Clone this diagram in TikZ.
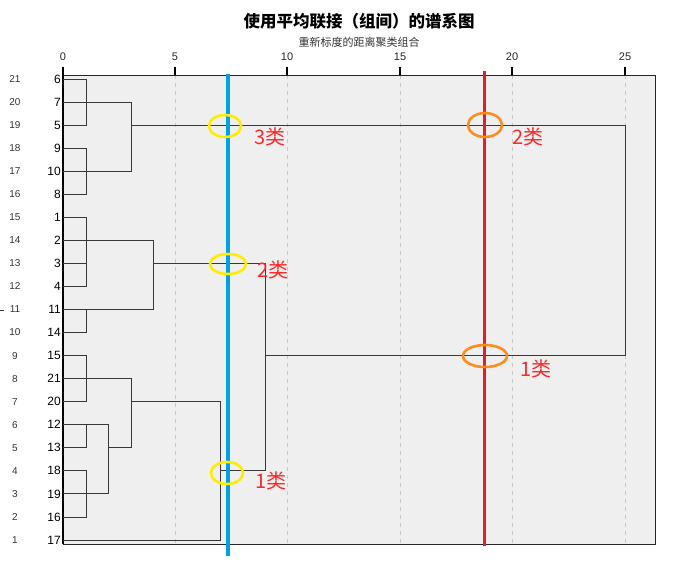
\documentclass[tikz,border=0pt]{standalone}
\usepackage{fontspec}
\setmainfont{Liberation Sans}
\newfontfamily\cjk{Noto Sans CJK SC}
\definecolor{boxfill}{RGB}{239,239,239}
\definecolor{cutblue}{RGB}{0,160,228}
\definecolor{cutred}{RGB}{226,30,38}
\definecolor{ringyellow}{RGB}{255,236,0}
\definecolor{ringorange}{RGB}{255,140,30}
\definecolor{labred}{RGB}{255,40,40}
\tikzset{
  tree/.style={draw=black!78, line width=0.9pt},
  grid/.style={draw=black!22, line width=0.8pt, dash pattern=on 4pt off 4pt},
  tickmark/.style={draw=black, line width=2pt},
  ticklab/.style={font=\fontsize{11}{12}\selectfont, text=black!85},
  caselab/.style={anchor=east, font=\fontsize{12}{13}\selectfont, inner sep=0pt},
  idxlab/.style={font=\fontsize{10}{11}\selectfont, text=black!80, inner sep=0pt},
  ring/.style={line width=2.6pt},
  cluslab/.style={font=\cjk\fontsize{20}{22}\selectfont, text=labred, inner sep=0pt}
}
\begin{document}
\begin{tikzpicture}[x=1pt,y=-1pt]
\useasboundingbox (0,0) rectangle (680,562);
% titles
\node[font=\cjk\bfseries\fontsize{16.5}{18}\selectfont] (title) at (359,21) {使用平均联接（组间）的谱系图};
\node[font=\cjk\fontsize{11}{12}\selectfont, text=black!80] (subtitle) at (359,42) {重新标度的距离聚类组合};
% plot box
\fill[boxfill] (63,75) rectangle (655,544);
\foreach \xx in {175,287,400,512,625} \draw[grid] (\xx,75) -- (\xx,544);
\draw[draw=black!85, line width=1pt] (63,75) -- (655,75) -- (655,544) -- (63,544);
\draw[black, line width=1.6pt] (63,67) -- (63,544);
\foreach \xx/\lab in {63/0,175/5,287/10,400/15,512/20,625/25} {
  \draw[tickmark] (\xx,67) -- (\xx,75);
  \node[ticklab] (t\lab) at (\xx,57) {\lab};
}
% leaves
\foreach \i/\c in {1/6,2/7,3/5,4/9,5/10,6/8,7/1,8/2,9/3,10/4,11/11,12/14,13/15,14/21,15/20,16/12,17/13,18/18,19/19,20/16,21/17} {
  \pgfmathsetmacro{\yy}{79+(\i-1)*23.05}
  \pgfmathtruncatemacro{\rr}{22-\i}
  \coordinate (L\i) at (63,\yy);
  \node[caselab] (c\i) at (61,\yy) {\c};
  \node[idxlab] (r\i) at (15,\yy) {\rr};
}
\draw[black!80, line width=0.8pt] (0,310) -- (4,310);
% merge heights
\coordinate (xa) at (86,0);
\coordinate (xd) at (108,0);
\coordinate (xb) at (131,0);
\coordinate (xc) at (153,0);
\coordinate (xe) at (220,0);
\coordinate (xf) at (265,0);
\coordinate (xg) at (625,0);
% top cluster
\draw[tree] (L1) -- (L1-|xa) -- (L3-|xa) -- (L3);
\draw[tree] (L2) -- (L2-|xb) -- (L5-|xb) -- (L5);
\draw[tree] (L4) -- (L4-|xa) -- (L6-|xa) -- (L6);
\draw[tree] (L3-|xb) -- (L3-|xg) -- (L13-|xg) -- (L13-|xf);
% middle cluster
\draw[tree] (L7) -- (L7-|xa) -- (L10-|xa) -- (L10);
\draw[tree] (L9) -- (L9-|xa);
\draw[tree] (L8) -- (L8-|xc) -- (L11-|xc) -- (L11);
\draw[tree] (L11-|xa) -- (L12-|xa) -- (L12);
\draw[tree] (L9-|xc) -- (L9-|xf) -- (L18-|xf) -- (L18-|xe);
% bottom cluster
\draw[tree] (L13) -- (L13-|xa) -- (L15-|xa) -- (L15);
\draw[tree] (L14) -- (L14-|xb) -- (L17-|xb) -- (L17-|xd);
\draw[tree] (L16) -- (L16-|xd) -- (L19-|xd) -- (L19);
\draw[tree] (L16-|xa) -- (L17-|xa) -- (L17);
\draw[tree] (L18) -- (L18-|xa) -- (L20-|xa) -- (L20);
\draw[tree] (L15-|xb) -- (L15-|xe) -- (L21-|xe) -- (L21);
% cut lines
\coordinate (bt) at (228,74);
\coordinate (bb) at (228,556);
\coordinate (rt) at (484,71);
\coordinate (rb) at (484,546);
\draw[cutblue, line width=3.6pt] (bt) -- (bb);
\draw[cutred, line width=3pt] (rt) -- (rb);
% rings
\draw[ringyellow, ring] (225,126) ellipse [x radius=16, y radius=11];
\draw[ringyellow, ring] (228,264) ellipse [x radius=18, y radius=10];
\draw[ringyellow, ring] (227,473) ellipse [x radius=16, y radius=11];
\draw[ringorange, ring] (485,125) ellipse [x radius=17, y radius=12];
\draw[ringorange, ring] (485,356) ellipse [x radius=22, y radius=11];
% cluster labels
\node[cluslab] (k3) at (270,137) {3类};
\node[cluslab] (k2) at (273,270) {2类};
\node[cluslab] (k1) at (271,481) {1类};
\node[cluslab] (q2) at (528,137) {2类};
\node[cluslab] (q1) at (536,369) {1类};
\end{tikzpicture}
\end{document}
